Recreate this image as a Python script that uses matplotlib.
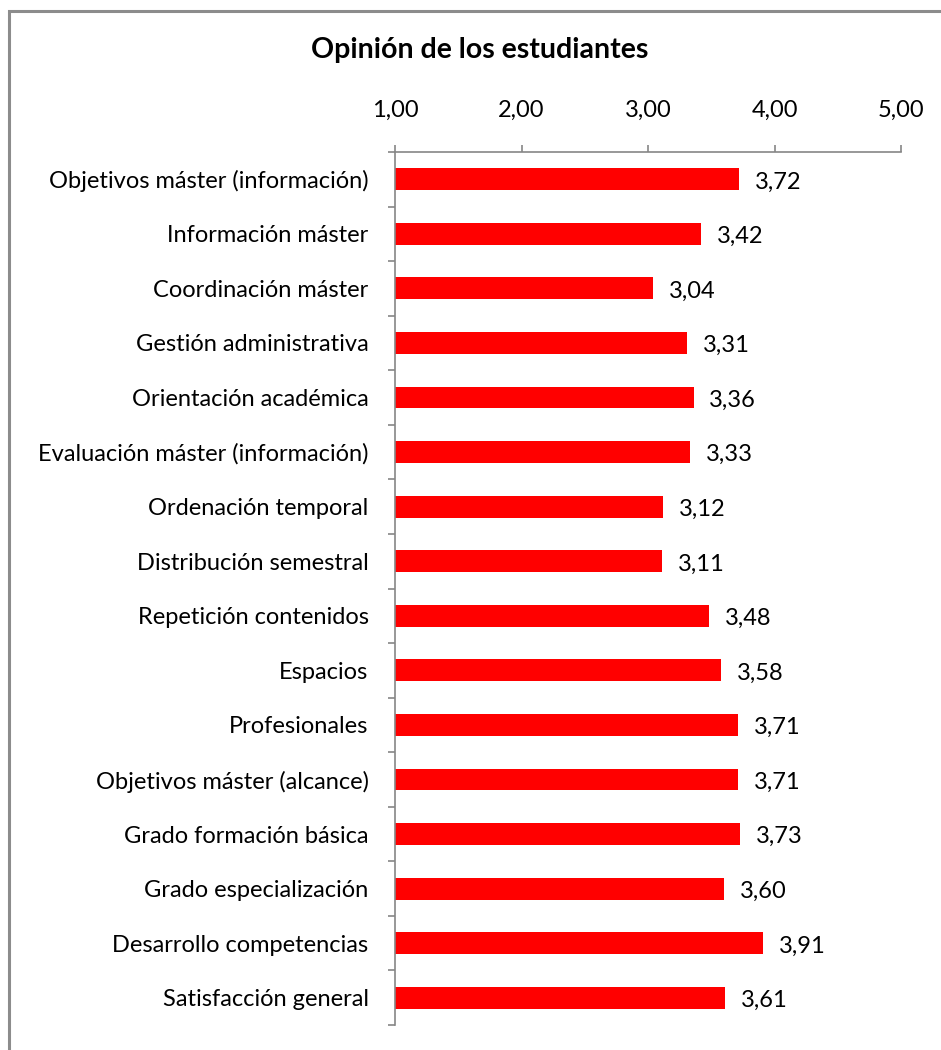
import matplotlib.pyplot as plt
from matplotlib.patches import Rectangle
from matplotlib.ticker import FixedLocator, FuncFormatter

plt.rcParams['font.family'] = ['Lato', 'DejaVu Sans']

categories = [
    'Objetivos máster (información)',
    'Información máster',
    'Coordinación máster',
    'Gestión administrativa',
    'Orientación académica',
    'Evaluación máster (información)',
    'Ordenación temporal',
    'Distribución semestral',
    'Repetición contenidos',
    'Espacios',
    'Profesionales',
    'Objetivos máster (alcance)',
    'Grado formación básica',
    'Grado especialización',
    'Desarrollo competencias',
    'Satisfacción general',
]
values = [3.72, 3.42, 3.04, 3.31, 3.36, 3.33, 3.12, 3.11,
          3.48, 3.58, 3.71, 3.71, 3.73, 3.60, 3.91, 3.61]
x_ticks = [1, 2, 3, 4, 5]
title = 'Opinión de los estudiantes'

axis_gray = '#868686'
fs = 17

fig = plt.figure(figsize=(9.41, 10.5), dpi=100)
ax = fig.add_axes([395 / 941, 25 / 1050, 506 / 941, 873 / 1050])

pos = list(range(len(categories)))
ax.barh(pos, values, height=0.4, color='#FF0000')
for p, v in zip(pos, values):
    ax.text(v + 0.125, p + 0.05, f'{v:.2f}'.replace('.', ','),
            va='center', ha='left', fontsize=fs)

ax.set_xlim(1, 5)
ax.set_ylim(len(categories) - 0.5, -0.5)
ax.xaxis.tick_top()
ax.set_xticks(x_ticks)
ax.xaxis.set_major_formatter(FuncFormatter(lambda x, _: f'{x:.2f}'.replace('.', ',')))
ax.tick_params(axis='x', direction='out', length=5, width=1.2, color=axis_gray,
               pad=17.5, labelsize=fs)

ax.set_yticks(pos)
ax.set_yticklabels(categories)
ax.yaxis.set_minor_locator(FixedLocator([p - 0.5 for p in pos] + [len(pos) - 0.5]))
ax.tick_params(axis='y', which='major', length=0, pad=19, labelsize=fs)
ax.tick_params(axis='y', which='minor', direction='out', length=5, width=1.2, color=axis_gray)

for side in ['right', 'bottom']:
    ax.spines[side].set_visible(False)
for side in ['top', 'left']:
    ax.spines[side].set_color(axis_gray)
    ax.spines[side].set_linewidth(1.2)

fig.text(480 / 941, 1 - 50 / 1050, title, ha='center', va='center',
         fontsize=20.5, fontweight='bold')

fig.patches.append(Rectangle((9 / 941, -0.05), 2, 1.05 - 10.5 / 1050,
                             transform=fig.transFigure, fill=False,
                             edgecolor='#8c8c8c', linewidth=2.2))

fig.savefig('out.png', dpi=100)
